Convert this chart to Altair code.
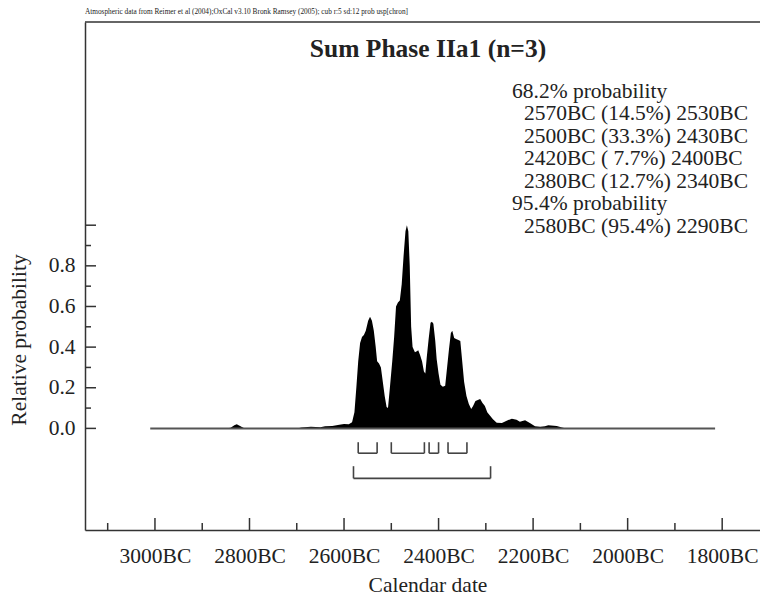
import altair as alt
import pandas as pd

# ---------------- data ----------------
header_text = "Atmospheric data from Reimer et al (2004);OxCal v3.10 Bronk Ramsey (2005); cub r:5 sd:12 prob usp[chron]"
title_text = "Sum Phase IIa1 (n=3)"
x_axis_title = "Calendar date"
y_axis_title = "Relative probability"

year_bc = [3010, 2850, 2840, 2832, 2827, 2820, 2812, 2800, 2700, 2690, 2670, 2650,
           2640, 2625, 2610, 2600, 2590, 2583, 2578, 2574, 2570, 2566, 2562, 2558,
           2554, 2549, 2545, 2541, 2537, 2533, 2530, 2526, 2522, 2518, 2514, 2510,
           2507, 2503, 2498, 2494, 2490, 2486, 2482, 2478, 2474, 2470, 2467, 2464,
           2461, 2458, 2455, 2450, 2446, 2443, 2439, 2435, 2431, 2428, 2425, 2421,
           2417, 2414, 2411, 2407, 2404, 2400, 2396, 2391, 2386, 2382, 2378, 2374,
           2371, 2367, 2363, 2358, 2354, 2350, 2346, 2341, 2336, 2331, 2327, 2322,
           2317, 2312, 2307, 2302, 2297, 2291, 2285, 2277, 2266, 2256, 2245, 2235,
           2228, 2217, 2206, 2196, 2185, 2175, 2168, 2150, 2139, 2130, 1815]
prob = [0.0, 0.0, 0.003, 0.015, 0.02, 0.012, 0.002, 0.0, 0.0, 0.004, 0.008, 0.006,
        0.01, 0.012, 0.018, 0.022, 0.02, 0.03, 0.08, 0.2, 0.33, 0.42, 0.45, 0.46,
        0.48, 0.53, 0.55, 0.53, 0.48, 0.40, 0.33, 0.32, 0.30, 0.23, 0.16, 0.105,
        0.10, 0.2, 0.33, 0.45, 0.6, 0.62, 0.63, 0.71, 0.85, 0.97, 1.0, 0.97,
        0.8, 0.5, 0.4, 0.375, 0.38, 0.385, 0.36, 0.33, 0.28, 0.27, 0.35, 0.44,
        0.52, 0.525, 0.515, 0.43, 0.34, 0.27, 0.215, 0.205, 0.21, 0.3, 0.39, 0.47,
        0.48, 0.445, 0.44, 0.435, 0.43, 0.33, 0.23, 0.16, 0.12, 0.095, 0.11, 0.135,
        0.14, 0.145, 0.125, 0.11, 0.08, 0.062, 0.045, 0.028, 0.026, 0.038, 0.048, 0.043,
        0.033, 0.04, 0.025, 0.01, 0.008, 0.01, 0.015, 0.012, 0.005, 0.0, 0.0]
assert len(year_bc) == len(prob)

x_major = [3000, 2800, 2600, 2400, 2200, 2000, 1800]
x_minor = [3100, 2900, 2700, 2500, 2300, 2100, 1900]
y_major = [0.0, 0.2, 0.4, 0.6, 0.8, 1.0]
y_minor = [0.1, 0.3, 0.5, 0.7, 0.9]
y_labels = [0.0, 0.2, 0.4, 0.6, 0.8]

range68_from = [2570, 2500, 2420, 2380]
range68_to = [2530, 2430, 2400, 2340]
range95_from = [2580]
range95_to = [2290]

head68 = "68.2% probability"
lines68 = ["2570BC (14.5%) 2530BC", "2500BC (33.3%) 2430BC",
           "2420BC ( 7.7%) 2400BC", "2380BC (12.7%) 2340BC"]
head95 = "95.4% probability"
lines95 = ["2580BC (95.4%) 2290BC"]

# ---------------- layout ----------------
W, H = 675, 508
FONT = "Liberation Serif"
INK = "#222222"
LINE = "#333333"

xscale = alt.Scale(domain=[1720, 3148], reverse=True, nice=False, zero=False)
yscale = alt.Scale(domain=[-0.5, 2.0], nice=False, zero=False)

xaxis = alt.Axis(values=x_major, labelExpr="datum.value + 'BC'", ticks=False,
                 domain=True, domainColor=LINE, domainWidth=1.5, grid=False,
                 labelPadding=15, title=None,
                 labelFont=FONT, labelFontSize=21.5, labelColor=INK,
                 labelFlush=False, labelOverlap=False, labelBound=False)
yaxis = alt.Axis(values=y_labels, format=".1f", ticks=False, domain=True,
                 domainColor=LINE, domainWidth=1.5,
                 grid=False, labelPadding=10, title=None, labelFont=FONT,
                 labelFontSize=21.5, labelColor=INK, labelFlush=False,
                 labelOverlap=False, labelBound=False)


def X(field):
    return alt.X(field, scale=xscale, axis=xaxis)


def Y(field):
    return alt.Y(field, scale=yscale, axis=yaxis)


curve = pd.DataFrame({"year": year_bc, "p": prob})

area = alt.Chart(curve).mark_area(color="black", interpolate="linear").encode(
    x=X("year:Q"), y=Y("p:Q"))

baseline = alt.Chart(pd.DataFrame({"year": [year_bc[0]], "b": [year_bc[-1]], "p": [0.0]})).mark_rule(
    color="#555555", strokeWidth=2).encode(x=X("year:Q"), x2="b:Q", y=Y("p:Q"))


def brackets(froms, tos, top, bottom):
    df = pd.DataFrame({"year": froms, "t": tos, "top": [top] * len(froms), "p": [bottom] * len(froms)})
    horiz = alt.Chart(df).mark_rule(color="#444444", strokeWidth=1.6).encode(
        x=X("year:Q"), x2="t:Q", y=Y("p:Q"))
    vert = alt.Chart(df).transform_fold(["year", "t"], as_=["k", "v"]).transform_calculate(
        year="datum.v").mark_rule(color="#444444", strokeWidth=1.6).encode(
        x=X("year:Q"), y=Y("p:Q"), y2="top:Q")
    return horiz + vert


br68 = brackets(range68_from, range68_to, -0.068, -0.122)
br95 = brackets(range95_from, range95_to, -0.186, -0.246)


def xticks(vals, length):
    return alt.Chart(pd.DataFrame({"year": vals})).mark_rule(color=LINE, strokeWidth=1.5).encode(
        x=X("year:Q"), y=alt.value(H), y2=alt.value(H - length))


def yticks(vals, length):
    return alt.Chart(pd.DataFrame({"p": vals})).mark_rule(color=LINE, strokeWidth=1.5).encode(
        y=Y("p:Q"), x=alt.value(0), x2=alt.value(length))


ticks = xticks(x_major, 12) + xticks(x_minor, 7) + yticks(y_major, 11) + yticks(y_minor, 6)

top_border = alt.Chart(pd.DataFrame({"k": [0]})).mark_rule(color=LINE, strokeWidth=1.5).encode(
    x=alt.value(0), x2=alt.value(W), y=alt.value(0))


def label(text, x, y, size=21.5, align="left", weight="normal", angle=0, baseline="alphabetic"):
    return alt.Chart(pd.DataFrame({"t": [text]})).mark_text(
        align=align, baseline=baseline, font=FONT, fontSize=size, fontWeight=weight,
        color=INK, angle=angle).encode(x=alt.value(x), y=alt.value(y), text="t:N")


texts = [
    label(header_text, 0, -8, size=7.3),
    label(title_text, 343, 35, size=25.5, align="center", weight="bold"),
    label(x_axis_title, 343, 570, align="center"),
    label(y_axis_title, -65, 318, align="center", angle=270, baseline="middle"),
]
LH = 22.5
y0 = 75.8
texts.append(label(head68, 427, y0))
for i, s in enumerate(lines68):
    texts.append(label(s, 439, y0 + LH * (i + 1)))
texts.append(label(head95, 427, y0 + LH * 5))
for i, s in enumerate(lines95):
    texts.append(label(s, 439, y0 + LH * (6 + i)))

chart = alt.layer(area, baseline, br68, br95, ticks, top_border, *texts).properties(
    width=W, height=H,
    autosize=alt.AutoSizeParams(type="none"),
    padding={"left": 77, "top": 14, "right": 0, "bottom": 67},
).configure(background="white").configure_view(stroke=None)

chart.save("out.html", embed_options={"renderer": "svg", "actions": False})
